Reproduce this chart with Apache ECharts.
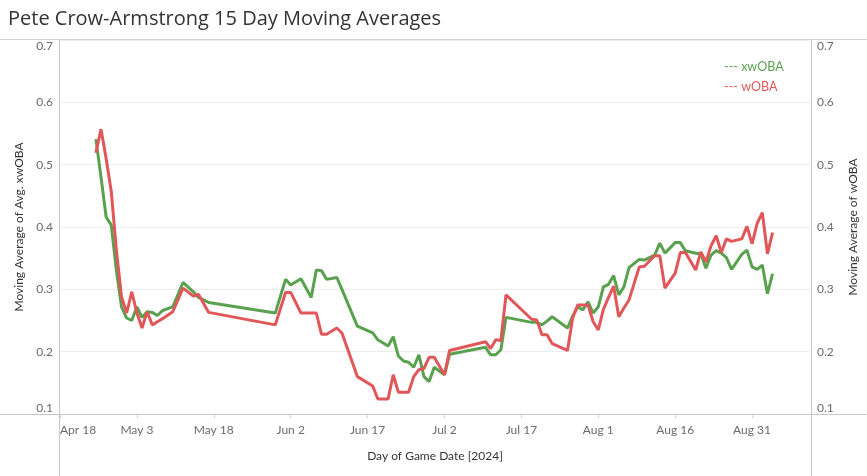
<!DOCTYPE html>
<html><head><meta charset="utf-8">
<script src="https://cdn.jsdelivr.net/npm/echarts@6/dist/echarts.min.js"></script>
<style>html,body{margin:0;padding:0;background:#fff}#c{width:867px;height:476px}</style>
</head><body><div id="c"></div>
<script>
const titleText = 'Pete Crow-Armstrong 15 Day Moving Averages';
const startDate = '2024-04-18';
const dates = ['2024-04-25','2024-04-26','2024-04-27','2024-04-28','2024-04-29','2024-04-30','2024-05-01','2024-05-02','2024-05-03','2024-05-04',
'2024-05-05','2024-05-06','2024-05-07','2024-05-08','2024-05-10','2024-05-12','2024-05-14','2024-05-15','2024-05-17','2024-05-30',
'2024-06-01','2024-06-02','2024-06-04','2024-06-06','2024-06-07','2024-06-08','2024-06-09','2024-06-11','2024-06-12','2024-06-15',
'2024-06-18','2024-06-19','2024-06-21','2024-06-22','2024-06-23','2024-06-24','2024-06-25','2024-06-26','2024-06-27','2024-06-28',
'2024-06-29','2024-06-30','2024-07-02','2024-07-03','2024-07-10','2024-07-11','2024-07-12','2024-07-13','2024-07-14','2024-07-19',
'2024-07-20','2024-07-21','2024-07-22','2024-07-23','2024-07-26','2024-07-27','2024-07-28','2024-07-29','2024-07-30','2024-07-31',
'2024-08-01','2024-08-02','2024-08-03','2024-08-04','2024-08-05','2024-08-06','2024-08-07','2024-08-09','2024-08-10','2024-08-12',
'2024-08-13','2024-08-14','2024-08-16','2024-08-17','2024-08-18','2024-08-20','2024-08-21','2024-08-22','2024-08-23','2024-08-24',
'2024-08-25','2024-08-26','2024-08-27','2024-08-29','2024-08-30','2024-08-31','2024-09-01','2024-09-02','2024-09-03','2024-09-04'];
const xwoba = [0.541,0.480,0.416,0.403,0.330,0.272,0.254,0.250,0.272,0.255,
0.264,0.263,0.258,0.266,0.272,0.311,0.296,0.287,0.279,0.262,
0.316,0.307,0.317,0.287,0.331,0.330,0.316,0.319,0.300,0.241,
0.230,0.219,0.209,0.224,0.193,0.185,0.183,0.175,0.195,0.160,
0.152,0.175,0.163,0.196,0.207,0.195,0.195,0.203,0.255,0.247,
0.247,0.243,0.249,0.256,0.238,0.257,0.272,0.267,0.280,0.262,
0.272,0.304,0.308,0.322,0.291,0.304,0.335,0.348,0.347,0.355,
0.374,0.358,0.375,0.375,0.362,0.358,0.357,0.334,0.355,0.362,
0.358,0.351,0.332,0.356,0.363,0.336,0.332,0.339,0.293,0.325];
const woba = [0.519,0.557,0.510,0.457,0.363,0.288,0.262,0.296,0.262,0.238,
0.264,0.243,0.248,0.253,0.264,0.302,0.289,0.292,0.263,0.243,
0.295,0.295,0.262,0.262,0.262,0.228,0.228,0.238,0.230,0.160,
0.145,0.124,0.124,0.163,0.135,0.135,0.135,0.160,0.171,0.173,
0.191,0.191,0.163,0.202,0.216,0.205,0.219,0.218,0.291,0.252,
0.251,0.227,0.227,0.213,0.202,0.254,0.275,0.275,0.275,0.248,
0.235,0.268,0.287,0.305,0.256,0.270,0.283,0.336,0.337,0.354,
0.354,0.302,0.326,0.359,0.359,0.331,0.360,0.344,0.370,0.386,
0.359,0.381,0.377,0.381,0.401,0.373,0.406,0.423,0.357,0.391];
const yTicks = [0.1,0.2,0.3,0.4,0.5,0.6,0.7];
const seriesNames = ['xwOBA','wOBA'];

const DAY = 86400000;
const t0 = Date.parse(startDate);
const dayOf = d => (Date.parse(d) - t0) / DAY;
const MON = ['Jan','Feb','Mar','Apr','May','Jun','Jul','Aug','Sep','Oct','Nov','Dec'];
const fmtDay = v => { if (Math.abs(v % 15) > 1e-6) return ''; const d = new Date(t0 + v*DAY); return MON[d.getUTCMonth()] + ' ' + d.getUTCDate(); };
const GREEN = '#59a14f', RED = '#e15759';
const FONT = 'Lato';

const chart = echarts.init(document.getElementById('c'), null, {renderer:'canvas'});
const yAxisCommon = {
  type:'value', min: yTicks[0], max: yTicks[yTicks.length-1], interval: 0.1,
  axisLine:{show:false}, axisTick:{show:false},
  axisLabel:{color:'#6b6b6b', fontFamily:FONT, fontSize:12, margin:7,
    formatter: v => v.toFixed(1), verticalAlignMaxLabel:'top', verticalAlignMinLabel:'bottom'},
  nameLocation:'middle', nameTextStyle:{color:'#333', fontFamily:FONT, fontSize:12}
};
chart.setOption({
  animation:false,
  title:{text:titleText, left:3, top:4, textStyle:{fontFamily:'Open Sans', fontWeight:'normal', fontSize:20, color:'#333'}},
  grid:{left:60, right:56, top:40, bottom:62},
  legend:{orient:'vertical', left:714, top:55, itemWidth:0, itemHeight:0, icon:'none', itemGap:7,
    formatter: n => '--- ' + n,
    data:[{name:seriesNames[0], textStyle:{color:GREEN}}, {name:seriesNames[1], textStyle:{color:RED}}],
    textStyle:{fontFamily:FONT, fontSize:12.5}},
  xAxis:{type:'value', min:0, max:146.3, interval:15,
    name:'Day of Game Date [2024]', nameLocation:'middle', nameGap:36,
    nameTextStyle:{color:'#333', fontFamily:FONT, fontSize:12},
    axisLine:{show:false}, axisTick:{show:true, length:4, lineStyle:{color:'#d4d4d4'}},
    splitLine:{show:false},
    axisLabel:{color:'#6b6b6b', fontFamily:FONT, fontSize:12, margin:10, formatter:fmtDay, showMaxLabel:false, alignMinLabel:'left'}},
  yAxis:[
    Object.assign({}, yAxisCommon, {position:'left', name:'Moving Average of Avg. xwOBA', nameGap:35, splitLine:{show:true, lineStyle:{color:'#ececec'}}}),
    Object.assign({}, yAxisCommon, {position:'right', name:'Moving Average of wOBA', nameGap:37, splitLine:{show:false}})
  ],
  graphic:[
    {type:'line', shape:{x1:0,y1:39.5,x2:867,y2:39.5}, style:{stroke:'#d0d0d0', lineWidth:1}, z:10},
    {type:'line', shape:{x1:0,y1:414.5,x2:867,y2:414.5}, style:{stroke:'#c8c8c8', lineWidth:1}, z:10},
    {type:'line', shape:{x1:59.5,y1:39.5,x2:59.5,y2:476}, style:{stroke:'#c8c8c8', lineWidth:1}, z:10},
    {type:'line', shape:{x1:811.5,y1:39.5,x2:811.5,y2:476}, style:{stroke:'#c8c8c8', lineWidth:1}, z:10}
  ],
  series:[
    {name:seriesNames[0], type:'line', yAxisIndex:0, showSymbol:false, symbol:'none', lineStyle:{color:GREEN, width:3}, itemStyle:{color:GREEN},
      data: dates.map((d,i)=>[dayOf(d), xwoba[i]])},
    {name:seriesNames[1], type:'line', yAxisIndex:1, showSymbol:false, symbol:'none', lineStyle:{color:RED, width:3}, itemStyle:{color:RED},
      data: dates.map((d,i)=>[dayOf(d), woba[i]])}
  ]
});
</script></body></html>
